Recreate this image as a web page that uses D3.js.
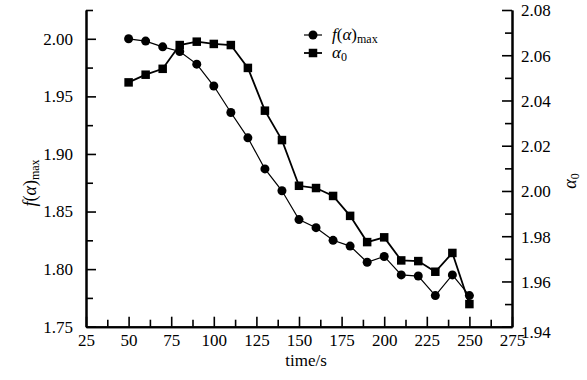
<!DOCTYPE html>
<html><head><meta charset="utf-8">
<script src="https://cdn.jsdelivr.net/npm/d3@7"></script>
<style>
body{margin:0;background:#fff;}
</style></head>
<body>
<svg id="c" width="587" height="380"></svg>
<script>
const times = [50,60,70,80,90,100,110,120,130,140,150,160,170,180,190,200,210,220,230,240,250];
const fmax = [2.000,1.998,1.993,1.989,1.978,1.959,1.936,1.914,1.887,1.868,1.843,1.836,1.825,1.820,1.806,1.811,1.795,1.794,1.777,1.795,1.777];
const alpha0 = [2.048,2.0514,2.054,2.0645,2.066,2.065,2.0645,2.0544,2.0355,2.0225,2.0023,2.0013,1.9978,1.989,1.9774,1.9795,1.9693,1.969,1.9643,1.9726,1.950];
const xTicks = [25,50,75,100,125,150,175,200,225,250,275];
const xMinor = [37.5,62.5,87.5,112.5,137.5,162.5,187.5,212.5,237.5,262.5];
const yLTicks = [1.75,1.80,1.85,1.90,1.95,2.00];
const yLMinor = [1.775,1.825,1.875,1.925,1.975,2.025];
const yRTicks = [1.94,1.96,1.98,2.00,2.02,2.04,2.06,2.08];
const yRMinor = [1.95,1.97,1.99,2.01,2.03,2.05,2.07];

const FONT = "Liberation Serif";
const svg = d3.select("#c");
const L=86, R=512, T=10, B=326.7;
const x = d3.scaleLinear().domain([25,275]).range([L,R]);
const yL = d3.scaleLinear().domain([1.75,2.025]).range([B,T]);
const yR = d3.scaleLinear().domain([1.94,2.08]).range([B,T]);

function styleAxis(g){
  g.attr("font-family", FONT).attr("font-size", 17);
  g.select(".domain").attr("stroke","#000").attr("stroke-width",2);
  g.selectAll(".tick line").attr("stroke","#000").attr("stroke-width",1.6);
  g.selectAll(".tick text").attr("fill","#000");
}
// minor ticks
svg.append("g").attr("transform",`translate(0,${B})`)
  .call(d3.axisBottom(x).tickValues(xMinor).tickFormat("").tickSizeInner(-7).tickSizeOuter(0)).call(styleAxis);
svg.append("g").attr("transform",`translate(${L},0)`)
  .call(d3.axisLeft(yL).tickValues(yLMinor).tickFormat("").tickSizeInner(-7).tickSizeOuter(0)).call(styleAxis);
svg.append("g").attr("transform",`translate(${R},0)`)
  .call(d3.axisRight(yR).tickValues(yRMinor).tickFormat("").tickSizeInner(-7).tickSizeOuter(0)).call(styleAxis);
// major
svg.append("g").attr("transform",`translate(0,${B})`)
  .call(d3.axisBottom(x).tickValues(xTicks).tickFormat(d3.format("d")).tickSizeInner(-10).tickSizeOuter(0).tickPadding(7)).call(styleAxis);
svg.append("g").attr("transform",`translate(${L},0)`)
  .call(d3.axisLeft(yL).tickValues(yLTicks).tickFormat(d3.format(".2f")).tickSizeInner(-10).tickSizeOuter(0).tickPadding(13)).call(styleAxis);
const gr = svg.append("g").attr("transform",`translate(${R},0)`)
  .call(d3.axisRight(yR).tickValues(yRTicks).tickFormat(d3.format(".2f")).tickSizeInner(-10).tickSizeOuter(0).tickPadding(9)).call(styleAxis);
gr.selectAll(".tick text").attr("dy", d => d===1.94 ? "0.62em" : "0.35em");

// series
const d1 = times.map((t,i)=>[t,fmax[i]]);
const d2 = times.map((t,i)=>[t,alpha0[i]]);
svg.append("path").datum(d1).attr("fill","none").attr("stroke","#000").attr("stroke-width",1.2)
  .attr("d", d3.line().x(d=>x(d[0])).y(d=>yL(d[1])));
svg.append("path").datum(d2).attr("fill","none").attr("stroke","#000").attr("stroke-width",1.8)
  .attr("d", d3.line().x(d=>x(d[0])).y(d=>yR(d[1])));
svg.append("g").selectAll("circle").data(d1).join("circle")
  .attr("cx",d=>x(d[0])).attr("cy",d=>yL(d[1])).attr("r",4.5).attr("fill","#000");
const s=8.5;
svg.append("g").selectAll("rect").data(d2).join("rect")
  .attr("x",d=>x(d[0])-s/2).attr("y",d=>yR(d[1])-s/2).attr("width",s).attr("height",s).attr("fill","#000");

// legend
const lg = svg.append("g");
lg.append("line").attr("x1",304).attr("x2",322).attr("y1",35).attr("y2",35).attr("stroke","#000").attr("stroke-width",1.2);
lg.append("circle").attr("cx",313).attr("cy",35).attr("r",4.5);
lg.append("line").attr("x1",304).attr("x2",322).attr("y1",53).attr("y2",53).attr("stroke","#000").attr("stroke-width",1.8);
lg.append("rect").attr("x",313-s/2).attr("y",53-s/2).attr("width",s).attr("height",s);
function fLabel(t){
  t.append("tspan").attr("font-style","italic").text("f");
  t.append("tspan").text("(");
  t.append("tspan").attr("font-style","italic").text("α");
  t.append("tspan").text(")");
  t.append("tspan").attr("font-size","12px").attr("dy","3").text("max");
}
function aLabel(t){
  t.append("tspan").attr("font-style","italic").text("α");
  t.append("tspan").attr("font-size","12px").attr("dy","3").text("0");
}
lg.append("text").attr("x",332).attr("y",40).attr("font-size","17px").call(fLabel);
lg.append("text").attr("x",332).attr("y",58).attr("font-size","17px").call(aLabel);

// axis titles
svg.append("text").attr("x",306).attr("y",366).attr("text-anchor","middle").attr("font-size","17px").text("time/s");
svg.append("text").attr("transform","translate(36,183) rotate(-90)").attr("text-anchor","middle").attr("font-size","18px").call(fLabel);
svg.append("text").attr("transform","translate(576,181) rotate(-90)").attr("text-anchor","middle").attr("font-size","18px").call(aLabel);

svg.selectAll("text").attr("font-family", FONT).attr("fill","#000");
</script>
</body></html>
